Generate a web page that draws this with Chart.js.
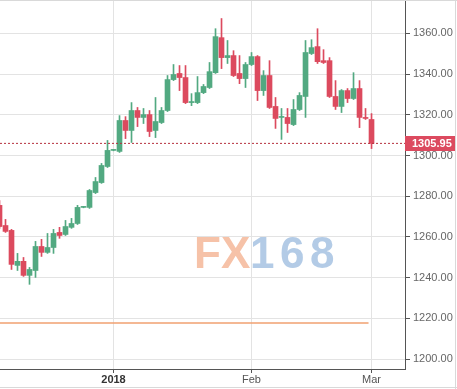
<!DOCTYPE html>
<html><head><meta charset="utf-8">
<script src="https://cdn.jsdelivr.net/npm/chart.js@4.4.1/dist/chart.umd.min.js"></script>
<style>html,body{margin:0;padding:0;background:#fff;overflow:hidden}#wrap{width:457px;height:389px;position:relative}canvas{display:block}</style>
</head><body><div id="wrap"><canvas id="c" width="457" height="389"></canvas></div>
<script>
const dates = ['2017-12-05','2017-12-06','2017-12-07','2017-12-08','2017-12-11','2017-12-12','2017-12-13','2017-12-14','2017-12-15','2017-12-18','2017-12-19','2017-12-20','2017-12-21','2017-12-22','2017-12-25','2017-12-26','2017-12-27','2017-12-28','2017-12-29',
'2018-01-01','2018-01-02','2018-01-03','2018-01-04','2018-01-05','2018-01-08','2018-01-09','2018-01-10','2018-01-11','2018-01-12','2018-01-15','2018-01-16','2018-01-17','2018-01-18','2018-01-19','2018-01-22','2018-01-23','2018-01-24','2018-01-25','2018-01-26','2018-01-29','2018-01-30','2018-01-31',
'2018-02-01','2018-02-02','2018-02-05','2018-02-06','2018-02-07','2018-02-08','2018-02-09','2018-02-12','2018-02-13','2018-02-14','2018-02-15','2018-02-16','2018-02-19','2018-02-20','2018-02-21','2018-02-22','2018-02-23','2018-02-26','2018-02-27','2018-02-28','2018-03-01'];
const opens  = [1275.5,1265.6,1263.2,1246.0,1248.0,1241.1,1243.5,1255.3,1252.4,1254.8,1262.2,1261.2,1264.7,1266.6,1274.5,1274.5,1281.8,1286.7,1294.6,
1302.5,1302.0,1317.2,1312.3,1322.1,1318.7,1320.1,1312.3,1316.2,1322.1,1337.3,1340.3,1338.3,1326.0,1326.0,1330.9,1333.4,1340.7,1357.9,1348.1,1349.1,1340.3,1337.8,
1344.7,1348.6,1331.9,1339.3,1324.1,1318.7,1318.7,1315.2,1322.6,1329.0,1350.1,1353.5,1346.6,1346.6,1329.0,1324.1,1331.9,1328.0,1332.9,1318.7,1317.7];
const highs  = [1277.9,1268.6,1263.7,1251.9,1249.9,1245.0,1257.8,1258.8,1261.7,1263.7,1264.7,1268.1,1269.1,1275.5,1274.9,1283.3,1289.2,1296.1,1307.4,
1302.9,1319.6,1319.1,1326.0,1323.6,1323.1,1322.1,1328.5,1323.6,1339.3,1344.7,1344.2,1344.2,1330.4,1338.8,1334.9,1345.7,1362.3,1367.3,1356.5,1351.5,1349.1,1345.7,
1350.6,1349.1,1341.7,1346.6,1328.5,1323.1,1323.1,1327.5,1330.9,1356.5,1356.9,1362.3,1352.0,1348.1,1336.8,1332.4,1332.9,1340.7,1336.8,1323.1,1320.6];
const lows   = [1264.2,1262.2,1244.0,1243.5,1240.6,1236.7,1240.1,1250.4,1251.9,1251.9,1259.3,1260.7,1264.2,1266.1,1274.3,1274.0,1281.3,1286.3,1294.1,
1302.3,1301.5,1308.3,1306.4,1314.2,1315.7,1309.3,1308.8,1315.7,1321.6,1336.8,1331.9,1325.5,1324.5,1325.5,1330.4,1332.9,1340.3,1342.7,1345.2,1338.8,1335.3,1333.4,
1344.2,1327.0,1329.5,1323.1,1313.3,1307.9,1311.3,1314.7,1322.1,1318.7,1349.6,1345.2,1345.2,1328.5,1322.6,1321.1,1326.0,1327.5,1313.7,1317.7,1303.4];
const closes = [1265.1,1262.7,1246.5,1248.0,1241.1,1244.0,1255.3,1252.4,1254.8,1261.7,1260.7,1265.1,1266.6,1274.5,1274.6,1282.8,1287.2,1295.1,1302.5,
1302.7,1317.2,1312.3,1322.1,1318.7,1320.1,1311.8,1316.7,1322.1,1337.3,1339.8,1338.3,1326.0,1326.5,1330.9,1333.9,1341.2,1358.4,1348.1,1349.1,1339.3,1337.8,1344.7,
1348.6,1331.9,1339.3,1323.6,1318.2,1318.9,1315.7,1322.6,1329.5,1350.6,1353.0,1346.1,1345.7,1329.0,1324.1,1331.9,1328.0,1332.9,1318.7,1318.2,1305.95];
const xTickDates  = ['2018-01-01','2018-02-01','2018-03-01'];
const xTickLabels = ['2018','Feb','Mar'];
const yTickValues = [1200,1220,1240,1260,1280,1300,1320,1340,1360];
const refLevel = 1217.7;
const lastPrice = closes[closes.length-1];

const upColor = '#52a981', downColor = '#dc4a5e';
const idx = dates.map((d,i)=>i);
const colors = idx.map(i => closes[i] >= opens[i] ? upColor : downColor);
const xTickIdx = xTickDates.map(d => dates.indexOf(d));
const labelFor = {}; xTickIdx.forEach((v,k)=>labelFor[v]=xTickLabels[k]);
const xMin = 0.083, xMax = 67.58;
const FONT = "'Liberation Sans', Arial, sans-serif";

const overlay = {
  id: 'overlay',
  beforeDatasetsDraw(chart){
    const c = chart.ctx;
    c.save();
    c.font = "bold 44px " + FONT;
    c.textBaseline = 'alphabetic';
    c.fillStyle = '#f6c2a8';
    c.fillText('FX', 194, 268);
    c.fillStyle = '#b3cbe6';
    const d = '168';
    for (let k=0;k<d.length;k++) c.fillText(d[k], 250 + k*30, 268);
    c.restore();
  },
  afterDraw(chart){
    const c = chart.ctx, a = chart.chartArea, y = chart.scales.y;
    const py = y.getPixelForValue(lastPrice);
    c.save();
    c.fillStyle = '#dc4a5f';
    c.fillRect(a.right, Math.round(py) - 7, 51, 15);
    c.fillStyle = '#fff';
    c.font = "bold 11px " + FONT;
    c.textAlign = 'left'; c.textBaseline = 'middle';
    c.fillText(lastPrice.toFixed(2), a.right + 7, Math.round(py) + 0.5);
    c.strokeStyle = '#d9d9d9'; c.lineWidth = 1;
    c.beginPath();
    c.moveTo(0, 0.5); c.lineTo(457, 0.5);
    c.moveTo(455.5, 0); c.lineTo(455.5, 389);
    c.moveTo(0, 387.5); c.lineTo(457, 387.5);
    c.stroke();
    c.restore();
  }
};

new Chart(document.getElementById('c'), {
  type: 'bar',
  data: { datasets: [
    { label:'wick', data: idx.map(i=>({x:i, y:[lows[i], highs[i]]})), backgroundColor: colors, barThickness: 1, grouped: false, order: 2 },
    { label:'body', data: idx.map(i=>({x:i, y:[Math.min(opens[i],closes[i]), Math.max(opens[i],closes[i])]})), backgroundColor: colors, barThickness: 5, minBarLength: 1, grouped: false, order: 1 },
    { type:'line', label:'ref', data: [{x:xMin, y:refLevel},{x:idx.length-1.5, y:refLevel}], borderColor:'#f0a070', borderWidth:1.5, pointRadius:0, order: 3 },
    { type:'line', label:'last', data: [{x:xMin, y:lastPrice},{x:xMax, y:lastPrice}], borderColor:'#b5303e', borderWidth:1, borderDash:[2,2], pointRadius:0, order: 0 }
  ]},
  options: {
    responsive: false, animation: false,
    layout: { padding: 0 },
    plugins: { legend: { display: false }, tooltip: { enabled: false } },
    scales: {
      x: {
        type: 'linear', min: xMin, max: xMax, offset: false,
        grid: { offset: false, color: '#e3e3e3', tickColor: '#555', tickLength: 4 },
        border: { color: '#555' },
        afterBuildTicks: s => { s.ticks = xTickIdx.map(v => ({ value: v })); },
        afterFit: s => { s.height = 20; s.paddingLeft = 0; s.paddingRight = 0; },
        ticks: {
          autoSkip: false, maxRotation: 0, padding: 0,
          callback: v => labelFor[v] || '',
          color: ctx => (ctx.tick && ctx.tick.value === xTickIdx[0]) ? '#333' : '#555',
          font: ctx => ({ family: FONT, size: 11, weight: (ctx.tick && ctx.tick.value === xTickIdx[0]) ? 'bold' : 'normal' })
        }
      },
      y: {
        position: 'right', min: 1195.1, max: 1376.4,
        grid: { color: '#e3e3e3', tickColor: '#555', tickLength: 5 },
        border: { color: '#555' },
        afterBuildTicks: s => { s.ticks = yTickValues.map(v => ({ value: v })); },
        afterFit: s => { s.width = 52; s.paddingTop = 0; s.paddingBottom = 0; },
        ticks: { padding: 3, color: '#666', font: { family: FONT, size: 11 }, callback: v => Number(v).toFixed(2) }
      }
    }
  },
  plugins: [overlay]
});
</script>
</body></html>
